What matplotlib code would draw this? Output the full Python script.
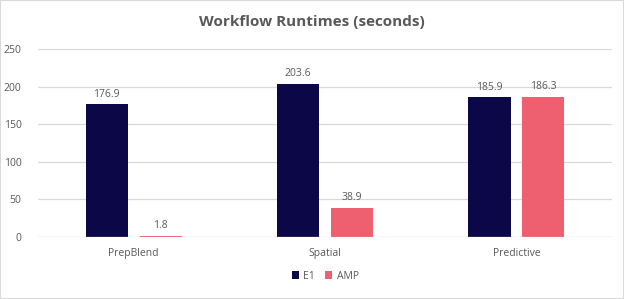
import matplotlib
matplotlib.use("Agg")
import matplotlib.pyplot as plt
import numpy as np
from matplotlib.patches import Rectangle

categories = ["PrepBlend", "Spatial", "Predictive"]
e1 = [176.9, 203.6, 185.9]
amp = [1.8, 38.9, 186.3]
series_names = ["E1", "AMP"]
yticks = [0, 50, 100, 150, 200, 250]

c_e1 = "#0C0848"
c_amp = "#EE5F6F"
txt = "#595959"

plt.rcParams['font.family'] = ['Open Sans', 'DejaVu Sans']

fig = plt.figure(figsize=(6.24, 2.99), dpi=100)
fig.patches.append(Rectangle((0, 0), 1, 1, transform=fig.transFigure, fill=False,
                             edgecolor="#D9D9D9", linewidth=1.5))
ax = fig.add_axes([0.061, 0.207, 0.92, 0.629])

x = np.arange(len(categories))
w = 0.22
off = 0.141
b1 = ax.bar(x - off, e1, w, color=c_e1, label=series_names[0])
b2 = ax.bar(x + off, amp, w, color=c_amp, label=series_names[1])
for bars, vals in ((b1, e1), (b2, amp)):
    for r, v in zip(bars, vals):
        ax.text(r.get_x() + r.get_width() / 2, v + 6, f"{v:.1f}", ha="center", va="bottom",
                fontsize=7.5, color=txt)

ax.set_xlim(-0.5, 2.5)
ax.set_ylim(0, 250)
ax.set_yticks(yticks)
ax.set_xticks(x)
ax.set_xticklabels(categories)
ax.tick_params(axis="both", length=0, labelsize=7.5, colors=txt)
ax.tick_params(axis="y", pad=12)
ax.tick_params(axis="x", pad=8)
ax.grid(axis="y", color="#D9D9D9", linewidth=0.9)
ax.set_axisbelow(True)
for s in ax.spines.values():
    s.set_visible(False)
ax.axhline(0, color="#D9D9D9", linewidth=0.9)

fig.text(0.5, 0.925, "Workflow Runtimes (seconds)", ha="center", va="center",
         fontsize=11, fontweight="bold", color=txt)

ax.legend(loc="center", bbox_to_anchor=(0.5, -0.207), ncol=2, frameon=False,
          fontsize=7.5, labelcolor=txt, handlelength=0.7, handleheight=0.7,
          columnspacing=1.0, handletextpad=0.4)

fig.savefig("out.png", dpi=100)
